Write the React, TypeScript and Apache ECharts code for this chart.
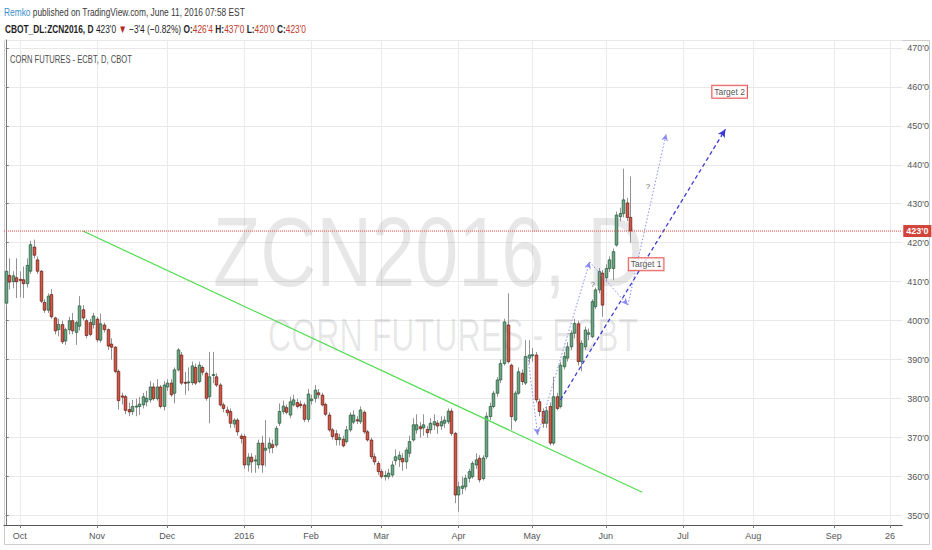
import React, { useEffect, useRef } from "react";
import * as echarts from "echarts";

// ---------- categories (trading days) ----------
const START_DATE = "2015-09-25";
const END_DATE = "2016-09-29";
const HOLIDAYS = [
  "2015-11-26", "2015-12-25", "2016-01-01", "2016-01-18", "2016-02-15",
  "2016-03-25", "2016-05-30", "2016-07-04", "2016-09-05",
];
const MONTH_NAMES = ["Jan", "Feb", "Mar", "Apr", "May", "Jun", "Jul", "Aug", "Sep", "Oct", "Nov", "Dec"];
const YEAR_MONTH = "2016-01"; // labelled "2016"
const DAY_LABELS: Record<string, string> = { "2016-09-26": "26" };

// ---------- OHLC values: [open, close, low, high] ----------
const sep2015 = [
  [404.5, 412.7, 403.5, 413.5], [411.6, 409.9, 408, 416], [410, 411.5, 408.3, 412.7], [411, 410, 405.8, 416],
];
const oct2015 = [
  [410.6, 410.4, 406, 412.7], [410.5, 409.5, 405.8, 413.9], [409.5, 414.2, 408.5, 416], [412.7, 419.5, 412, 420.5],
  [418.9, 416.8, 416, 420.8], [415.6, 412.7, 412, 416.5], [412.7, 405, 404.5, 413], [404.7, 402.7, 402, 405.5],
  [402.7, 406.3, 402, 407], [406.7, 401, 400.5, 408.1], [400.7, 397.4, 396.5, 401], [397.7, 399, 396, 400.5],
  [399, 394.6, 394, 400], [394.8, 397.7, 393.8, 398.2], [397.7, 400, 396.5, 401], [400, 397.4, 396.5, 402],
  [397, 399.5, 393.8, 400], [398.6, 403.8, 397.5, 406.3], [402.8, 400.7, 400, 404], [400, 396.2, 395.5, 400.5],
  [399.5, 396.5, 396, 400.5], [399, 401.2, 398, 402],
];
const nov2015 = [
  [400.4, 395.1, 394.5, 401], [395, 399.2, 394.4, 401.8], [398.9, 397.7, 397, 399.5], [397.7, 393.5, 392.5, 398],
  [394, 393.2, 390, 395.5], [393.2, 387, 386.5, 393.5], [387, 379.5, 377.2, 387.5], [380.7, 380.4, 378.5, 381.5],
  [380.5, 377, 376, 381], [377.2, 376.6, 375.5, 379], [376.7, 378, 375.8, 379.7], [378, 378.1, 375.5, 380],
  [378, 378.6, 375.8, 380.5], [378.4, 380.5, 377.5, 381.5], [379.2, 380.1, 378, 382], [379.7, 383, 379, 384.5],
  [383, 380, 379.5, 384], [380, 383, 379.5, 385], [383, 378, 377.5, 383.5], [378, 383.5, 377, 384.5],
];
const dec2015 = [
  [383, 384, 382, 385], [384, 381, 380.5, 385], [381.4, 387.4, 378.8, 388], [387.4, 392.5, 387, 393],
  [391.2, 384, 383.5, 392], [384.2, 384, 381, 386.9], [384.1, 384.3, 382, 388], [384.1, 388.4, 383.5, 389.5],
  [388, 384, 383.5, 389], [384.4, 388.6, 384, 389.5], [388, 386.8, 386, 388.5], [386.5, 380.1, 379.5, 387],
  [380.5, 385.6, 373.7, 392], [386, 386.2, 384, 392], [385.6, 383.5, 383, 386.5], [383.5, 378.4, 378, 384],
  [378.4, 377.5, 376.5, 379], [377.1, 376.4, 375.5, 378], [376.7, 373.7, 372.5, 377.5], [373.5, 374.5, 372.5, 375],
  [374.5, 371.5, 370.5, 375], [370.4, 369.8, 368.5, 371],
];
const jan2016 = [
  [370.3, 363, 362, 371], [363, 365, 361.3, 366], [365, 363.8, 361, 366], [364, 364.3, 361, 365.5],
  [363, 368.6, 362, 369.5], [368.6, 363, 361, 370.5], [366.8, 367.3, 362.6, 374.5], [367.3, 368.6, 366, 370],
  [368.2, 367.5, 366, 369.5], [368.1, 372.4, 367.5, 373], [373.7, 376.7, 373, 378.8], [376.7, 378.1, 376, 379.5],
  [377.7, 376.5, 376, 378.5], [375.8, 379.2, 375, 380.5], [378.4, 379.7, 378, 381], [379, 378, 377.5, 380],
  [378.6, 378.2, 377.5, 379.5], [378.4, 374.7, 374, 379], [374.7, 381.2, 374, 382.5],
];
const feb2016 = [
  [379.5, 379.9, 378.5, 381], [380.1, 382.2, 379, 383.5], [381.5, 381, 380, 382.5], [380.9, 378.4, 378, 381.5],
  [378.5, 376, 375.5, 379], [375.8, 372, 371.5, 376.5], [372, 370.3, 369.5, 372.5], [371, 369.5, 368, 372],
  [369.5, 370, 368, 371], [369.6, 367.9, 367.5, 370.5], [369, 372, 368.5, 373], [372, 375.8, 371.5, 376.5],
  [374, 375.8, 373.5, 377], [374.6, 374.3, 373.5, 375.5], [374.1, 377.1, 373.5, 378], [376.5, 371.5, 371, 377],
  [371.5, 369.4, 369, 372], [369.4, 365.1, 364.5, 370], [365.1, 363.8, 363, 366], [363.4, 361.3, 360.5, 364],
];
const mar2016 = [
  [361.3, 360, 359.5, 362], [360, 360.3, 359, 361.5], [360, 360.9, 359.3, 362], [360.4, 363, 359.8, 364],
  [364.1, 365.1, 363, 367], [364.4, 365.5, 362.5, 366.5], [364.7, 363.8, 361.5, 366], [363.8, 366.8, 362, 367.5],
  [366, 369, 365, 370.5], [369.4, 373.3, 369, 375], [372, 373.3, 371, 376], [372.8, 372.3, 370, 374],
  [372.5, 373.3, 370.5, 376], [372.1, 371.3, 370, 373], [372, 373.7, 371, 375], [373.3, 374.1, 372, 376],
  [373.7, 373, 371, 374.5], [373, 374.1, 372, 375.5], [373.7, 374.5, 372.5, 375.5], [374.1, 376.8, 373.5, 377.5],
  [376.8, 371.1, 370.5, 377.5], [371.1, 355.3, 353.2, 371.5],
];
const apr2016 = [
  [355.3, 357.4, 351, 358.7], [357, 357.6, 355.5, 360], [357.4, 359.6, 356.5, 360.5], [359.6, 361.3, 358.5, 362],
  [360, 363.4, 359.5, 364], [363, 364.3, 362, 366], [364.7, 359.2, 358.5, 365.5], [359.5, 364.8, 359, 365.5],
  [365.1, 375.5, 364.5, 376.5], [375.4, 378, 374.5, 379], [378, 381.4, 377.5, 382], [381.4, 384.8, 380.5, 385.5],
  [384.8, 389, 384, 390], [389, 399.7, 388.5, 400.5], [398.9, 389.5, 389, 407], [388.6, 375.4, 372, 389],
  [374.5, 381.4, 374, 382], [381.4, 386.9, 381, 388], [386.5, 384.4, 383.5, 387.5], [384, 390.8, 383.5, 395],
  [390.4, 391.2, 389, 395],
];
const may2016 = [
  [391, 391.3, 389.5, 393], [391.2, 379.7, 379, 392], [379.2, 376.7, 375.5, 380], [376.7, 373.7, 372.5, 377.5],
  [373.7, 376.9, 372.5, 378], [378, 368.6, 368, 379], [368.6, 380.5, 368, 385.6], [380.5, 377.5, 377, 381.5],
  [378, 388.6, 377.5, 389.5], [388.2, 390.8, 387.5, 392], [390.4, 393.3, 389.5, 394.5], [393.3, 396.8, 392.5, 397.5],
  [396.8, 399.3, 395.5, 400.5], [399.2, 389.5, 388.5, 400], [389.5, 394.2, 387, 395], [393.3, 397.6, 392.5, 398.5],
  [396.5, 396.9, 395, 398], [395.9, 404.9, 395.5, 405.5], [403.6, 407.9, 403, 408.5], [407.9, 412.6, 407, 413.5],
  [412.2, 404, 401, 413],
];
const jun2016 = [
  [411, 413.4, 410, 414.5], [413.4, 415.6, 412.5, 416.5], [413.4, 417.7, 410.4, 418.5], [419.4, 427.1, 419, 428],
  [426.7, 427.5, 425.5, 429], [427.5, 431, 426.5, 439], [430.2, 426.5, 425.5, 431.5], [426.5, 423, 420, 437],
];

// ---------- axis values ----------
const Y_MIN = 347.6;
const Y_MAX = 472;
const Y_STEP = 10;
const LAST_PRICE = 423;

// ---------- drawings (bar index, price) ----------
const trendLine = [[22.0, 423], [181.4, 356]];
const blueArrow = [[158.1, 379.7], [205.1, 449.1]];
const waveArrows = [
  [[148.8, 390.8], [151.6, 370.7]],
  [[151.6, 370.7], [166.4, 415.1]],
  [[166.4, 415.1], [177.3, 404.0]],
  [[177.3, 404.0], [188.2, 447.9]],
];
const targetLabels = [
  { text: "Target 1", x: 182.5, y: 414.5 },
  { text: "Target 2", x: 206.3, y: 458.7 },
];
const questionMarks = [
  { text: "?", x: 183, y: 434.5 },
  { text: "?", x: 167.3, y: 409.2 },
];

// ---------- texts ----------
const HEADER1 = [
  { text: "Remko", color: "#3b8ed0", weight: "normal" },
  { text: " published on TradingView.com, June 11, 2016 07:58 EST", color: "#3a3a3a", weight: "normal" },
];
const HEADER2 = [
  { text: "CBOT_DL:ZCN2016, D", color: "#1e1e1e", weight: "bold" },
  { text: " 423'0 ", color: "#1e1e1e", weight: "normal" },
  { text: "▼", color: "#b8261c", weight: "normal" },
  { text: " −3'4 (−0.82%) ", color: "#1e1e1e", weight: "normal" },
  { text: "O:", color: "#1e1e1e", weight: "bold" },
  { text: "426'4", color: "#c0392b", weight: "normal" },
  { text: " H:", color: "#1e1e1e", weight: "bold" },
  { text: "437'0", color: "#c0392b", weight: "normal" },
  { text: " L:", color: "#1e1e1e", weight: "bold" },
  { text: "420'0", color: "#c0392b", weight: "normal" },
  { text: " C:", color: "#1e1e1e", weight: "bold" },
  { text: "423'0", color: "#c0392b", weight: "normal" },
];
const PANE_TITLE = "CORN FUTURES - ECBT, D, CBOT";
const WATERMARK1 = "ZCN2016, D";
const WATERMARK2 = "CORN FUTURES - ECBT";

const FONT = "'Liberation Sans', Arial, sans-serif";
const NARROW = "'Liberation Sans Narrow', 'Liberation Sans', Arial, sans-serif";

function buildTradingDays(start: string, end: string, holidays: string[]): string[] {
  const out: string[] = [];
  const d = new Date(start + "T00:00:00Z");
  const e = new Date(end + "T00:00:00Z");
  while (d.getTime() <= e.getTime()) {
    const wd = d.getUTCDay();
    const s = d.toISOString().slice(0, 10);
    if (wd !== 0 && wd !== 6 && holidays.indexOf(s) < 0) out.push(s);
    d.setUTCDate(d.getUTCDate() + 1);
  }
  return out;
}

let measureCtx: CanvasRenderingContext2D | null = null;
function textWidth(text: string, size: number, weight: string, family: string): number {
  if (!measureCtx) measureCtx = document.createElement("canvas").getContext("2d");
  if (!measureCtx) return text.length * size * 0.55;
  measureCtx.font = `${weight} ${size}px ${family}`;
  return measureCtx.measureText(text).width;
}

function fittedSegments(
  segs: { text: string; color: string; weight: string }[],
  x0: number, yMid: number, target: number, size: number, family: string, z: number
) {
  const widths = segs.map((s) => textWidth(s.text, size, s.weight, family));
  const total = widths.reduce((a, b) => a + b, 0);
  const k = target / total;
  let cx = x0;
  return segs.map((s, i) => {
    const el = {
      type: "text", x: cx, y: yMid, scaleX: k, z, silent: true,
      style: {
        text: s.text, fill: s.color, fontSize: size, fontWeight: s.weight, fontFamily: family,
        align: "left", verticalAlign: "middle", textAlign: "left", textVerticalAlign: "middle",
      },
    };
    cx += widths[i] * k;
    return el;
  });
}

export default function App() {
  const ref = useRef<HTMLDivElement>(null);

  useEffect(() => {
    if (!ref.current) return;
    const chart = echarts.init(ref.current, null, { renderer: "svg" });

    const dates = buildTradingDays(START_DATE, END_DATE, HOLIDAYS);
    const candles = [
      ...sep2015, ...oct2015, ...nov2015, ...dec2015, ...jan2016,
      ...feb2016, ...mar2016, ...apr2016, ...may2016, ...jun2016,
    ];
    const candleData = candles.map((c, i) => [i, c[0], c[1], c[2], c[3]]);

    const isLabelIdx = (idx: number) => {
      const v = dates[idx];
      if (!v) return false;
      if (DAY_LABELS[v]) return true;
      return idx > 0 && v.slice(0, 7) !== dates[idx - 1].slice(0, 7);
    };
    const labelFor = (v: string) => {
      if (DAY_LABELS[v]) return DAY_LABELS[v];
      if (v.slice(0, 7) === YEAR_MONTH) return v.slice(0, 4);
      return MONTH_NAMES[parseInt(v.slice(5, 7), 10) - 1];
    };
    const priceFmt = (v: number) => `${Math.round(v)}'0`;

    const graphics: any[] = [
      {
        type: "rect", z: 0, silent: true,
        shape: { x: 4.5, y: 40.5, width: 925, height: 504 },
        style: { fill: "none", stroke: "#cdcdcd", lineWidth: 1 },
      },
      ...fittedSegments(HEADER1, 4, 11.5, 241, 11.5, FONT, 10),
      ...fittedSegments(HEADER2, 5, 28.5, 301, 11.5, FONT, 10),
      ...fittedSegments([{ text: PANE_TITLE, color: "#4d4d4d", weight: "normal" }], 10, 59, 122, 11, FONT, 10),
      ...fittedSegments([{ text: WATERMARK1, color: "rgba(0,0,0,0.095)", weight: "normal" }], 213, 252, 430, 98, FONT, 1),
      ...fittedSegments([{ text: WATERMARK2, color: "rgba(0,0,0,0.095)", weight: "normal" }], 268, 335, 370, 47, FONT, 1),
    ];

    const arrowSeries = (pairs: number[][][], color: string, type: any, width: number, size: number[]) => ({
      type: "line", xAxisIndex: 1, yAxisIndex: 0, data: [], z: 6, silent: true,
      markLine: {
        silent: true, symbol: ["none", "arrow"], symbolSize: size,
        label: { show: false },
        lineStyle: { color, type, width },
        emphasis: { disabled: true },
        data: pairs.map((p) => [{ coord: p[0] }, { coord: p[1] }]),
      },
    });

    const option: any = {
      animation: false,
      backgroundColor: "#ffffff",
      grid: { left: 4, right: 29, top: 40, bottom: 25, containLabel: false },
      xAxis: [
        {
          type: "category", data: dates, boundaryGap: true,
          axisLine: { show: true, lineStyle: { color: "#555555", width: 1 } },
          axisTick: { show: true, interval: (i: number) => isLabelIdx(i), alignWithLabel: true, length: 3, lineStyle: { color: "#777777" } },
          axisLabel: {
            interval: (i: number) => isLabelIdx(i), formatter: (v: string) => labelFor(v),
            color: "#555555", fontSize: 9, fontFamily: NARROW, margin: 6,
          },
          splitLine: { show: true, interval: (i: number) => isLabelIdx(i), alignWithLabel: true, lineStyle: { color: "#ebebeb", width: 1 } },
        },
        { type: "value", min: -0.5, max: dates.length - 0.5, show: false, splitLine: { show: false } },
      ],
      yAxis: {
        type: "value", position: "right", min: Y_MIN, max: Y_MAX, splitNumber: 12,
        minInterval: Y_STEP, maxInterval: Y_STEP, scale: true,
        axisLine: { show: true, lineStyle: { color: "#7a7a7a" } },
        axisTick: { show: true, length: 3, lineStyle: { color: "#7a7a7a" } },
        axisLabel: {
          formatter: priceFmt, color: "#555555", fontSize: 9, fontFamily: NARROW, margin: 5,
          showMinLabel: false, showMaxLabel: false,
        },
        splitLine: { show: true, lineStyle: { color: "#e8e8e8", width: 1 } },
      },
      graphic: graphics,
      series: [
        {
          type: "custom", xAxisIndex: 1, yAxisIndex: 0, z: 3, silent: true,
          data: candleData,
          encode: { x: 0, y: [1, 2, 3, 4] },
          renderItem: (params: any, api: any) => {
            const i = api.value(0);
            const o = api.value(1), c = api.value(2), l = api.value(3), h = api.value(4);
            const pO = api.coord([i, o]);
            const pC = api.coord([i, c]);
            const pL = api.coord([i, l]);
            const pH = api.coord([i, h]);
            const xc = Math.round(pO[0]) + 0.5;
            const up = c >= o;
            const top = Math.min(pO[1], pC[1]);
            const bot = Math.max(pO[1], pC[1]);
            const w = 2.6;
            return {
              type: "group",
              children: [
                { type: "line", shape: { x1: xc, y1: pH[1], x2: xc, y2: pL[1] }, style: { stroke: "#939393", lineWidth: 1 } },
                {
                  type: "rect",
                  shape: { x: xc - w / 2, y: top, width: w, height: Math.max(bot - top, 1) },
                  style: { fill: up ? "#6ba583" : "#d75442", stroke: up ? "#225437" : "#5b1a13", lineWidth: 0.7 },
                },
              ],
            };
          },
        },
        {
          type: "line", xAxisIndex: 1, yAxisIndex: 0, data: [], z: 5, silent: true,
          markLine: {
            silent: true, symbol: ["none", "none"],
            label: { show: false },
            emphasis: { disabled: true },
            lineStyle: { color: "#4fdc4f", type: "solid", width: 1.2 },
            data: [[{ coord: trendLine[0] }, { coord: trendLine[1] }]],
          },
        },
        {
          type: "line", xAxisIndex: 1, yAxisIndex: 0, z: 5, silent: true, symbol: "none",
          color: "#e5473a",
          lineStyle: { color: "#e5473a", type: [1, 1], width: 1 },
          data: [[-0.5, LAST_PRICE], [dates.length - 0.5, LAST_PRICE]],
          markLine: {
            silent: true, symbol: ["none", "none"],
            emphasis: { disabled: true },
            lineStyle: { color: "rgba(229,71,58,0)", width: 1, type: "solid" },
            label: {
              show: true, position: "end", formatter: priceFmt(LAST_PRICE), distance: 1,
              color: "#ffffff", backgroundColor: "#d2433a", padding: [2, 3, 1, 3],
              fontSize: 9, fontWeight: "bold", fontFamily: NARROW,
            },
            data: [{ yAxis: LAST_PRICE }],
          },
        },
        arrowSeries([blueArrow], "#3b3bd2", [4, 3], 1.3, [6, 8]),
        arrowSeries(waveArrows, "#8a8af2", [1.5, 2], 1, [5, 7]),
        {
          type: "scatter", xAxisIndex: 1, yAxisIndex: 0, z: 7, silent: true,
          symbolSize: 1, itemStyle: { color: "rgba(0,0,0,0)" },
          data: targetLabels.map((t) => ({
            value: [t.x, t.y],
            label: {
              show: true, position: "inside", formatter: t.text, color: "#222222",
              fontSize: 8.5, fontFamily: NARROW, backgroundColor: "#ffffff",
              borderColor: "#e02b2b", borderWidth: 1, padding: [2, 2, 1, 2],
            },
          })),
        },
        {
          type: "scatter", xAxisIndex: 1, yAxisIndex: 0, z: 7, silent: true,
          symbolSize: 1, itemStyle: { color: "rgba(0,0,0,0)" },
          data: questionMarks.map((t) => ({
            value: [t.x, t.y],
            label: { show: true, position: "inside", formatter: t.text, color: "#333333", fontSize: 8, fontFamily: FONT },
          })),
        },
      ],
    };

    chart.setOption(option);
    return () => chart.dispose();
  }, []);

  return (
    <div
      ref={ref}
      style={{ position: "fixed", left: 0, top: 0, width: 932, height: 550, background: "#ffffff" }}
    />
  );
}
